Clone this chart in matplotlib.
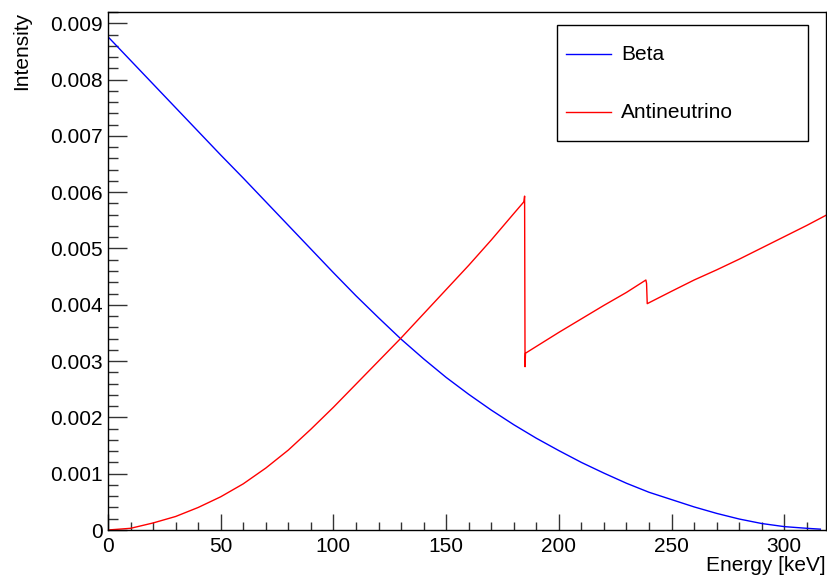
# Beta / antineutrino spectrum, ROOT-style canvas
import matplotlib
matplotlib.use('Agg')
import matplotlib.pyplot as plt
from matplotlib.ticker import MultipleLocator, FuncFormatter
from matplotlib.lines import Line2D
from matplotlib.patches import Rectangle

plt.rcParams['font.family'] = ['Liberation Sans', 'DejaVu Sans']

# energy grid for the beta spectrum [keV]
beta_energy = [0, 10, 20, 30, 40, 50, 60, 70, 80, 90, 100, 110, 120, 130, 140,
               150, 160, 170, 180, 190, 200, 210, 220, 230, 240, 250, 260, 270,
               280, 290, 300, 310, 316]
beta_intensity = [8.76, 8.34, 7.92, 7.50, 7.08, 6.66, 6.25, 5.83, 5.41, 4.99,
                  4.57, 4.16, 3.77, 3.39, 3.04, 2.71, 2.41, 2.13, 1.87, 1.63,
                  1.41, 1.20, 1.01, 0.83, 0.67, 0.54, 0.41, 0.295, 0.195, 0.115,
                  0.06, 0.03, 0.015]

# antineutrino spectrum, with the two edges near 185 and 239 keV
nu_energy = [0, 10, 20, 30, 40, 50, 60, 70, 80, 90, 100, 110, 120, 130, 140,
             150, 160, 170, 180, 184.5, 184.8, 185.0, 185.2, 190, 200, 210, 220,
             230, 238.6, 238.9, 239.2, 250, 260, 270, 280, 290, 300, 310, 319]
nu_intensity = [0, 0.03, 0.125, 0.24, 0.40, 0.59, 0.82, 1.10, 1.42, 1.79, 2.18,
                2.59, 3.00, 3.41, 3.84, 4.27, 4.70, 5.15, 5.62, 5.83, 5.93, 2.90,
                3.14, 3.26, 3.51, 3.75, 3.99, 4.22, 4.44, 4.38, 4.02, 4.24, 4.44,
                4.62, 4.81, 5.01, 5.21, 5.41, 5.60]

labels = ['Beta', 'Antineutrino']
colors = ['#0000ff', '#ff0000']
scale = 1e-3

W, H = 828, 576
fig = plt.figure(figsize=(W / 100, H / 100), dpi=100)
ax = fig.add_axes([108 / W, 46 / H, 718 / W, 518 / H])

ax.plot(beta_energy, [v * scale for v in beta_intensity], color=colors[0], lw=1.0)
ax.plot(nu_energy, [v * scale for v in nu_intensity], color=colors[1], lw=1.0)

ax.set_xlim(0, 318.5)
ax.set_ylim(0, 0.0092)

# ROOT-like ticks: inside, only left and bottom
ax.xaxis.set_major_locator(MultipleLocator(50))
ax.xaxis.set_minor_locator(MultipleLocator(10))
ax.yaxis.set_major_locator(MultipleLocator(0.001))
ax.yaxis.set_minor_locator(MultipleLocator(0.0002))
ax.yaxis.set_major_formatter(FuncFormatter(
    lambda v, p: '0' if abs(v) < 1e-12 else ('%.3f' % v)))
ax.tick_params(which='both', direction='in', top=False, right=False,
               labelsize=15, width=1.0, color='#333333')
ax.tick_params(axis='y', which='major', length=14, pad=4)
ax.tick_params(axis='y', which='minor', length=7)
ax.tick_params(axis='x', which='major', length=11.5, pad=5)
ax.tick_params(axis='x', which='minor', length=6)
for s in ax.spines.values():
    s.set_linewidth(1.0)

fig.text(826 / W, 1 - 571 / H, 'Energy [keV]', ha='right', va='baseline', fontsize=15)
fig.text(22 / W, 1 - 12 / H, 'Intensity', ha='center', va='top', rotation=90, fontsize=15)

# legend box drawn by hand, the way ROOT lays it out
fig.add_artist(Rectangle((557 / W, 1 - 141 / H), 251 / W, 116 / H,
                         transform=fig.transFigure, facecolor='white',
                         edgecolor='black', lw=1.0))
row_y = [54, 112]
for lab, col, yy in zip(labels, colors, row_y):
    fig.add_artist(Line2D([566 / W, 611 / W], [1 - yy / H, 1 - yy / H],
                          transform=fig.transFigure, color=col, lw=1.0))
    fig.text(621 / W, 1 - yy / H, lab, ha='left', va='center', fontsize=15)

fig.savefig('out.png', dpi=100)
